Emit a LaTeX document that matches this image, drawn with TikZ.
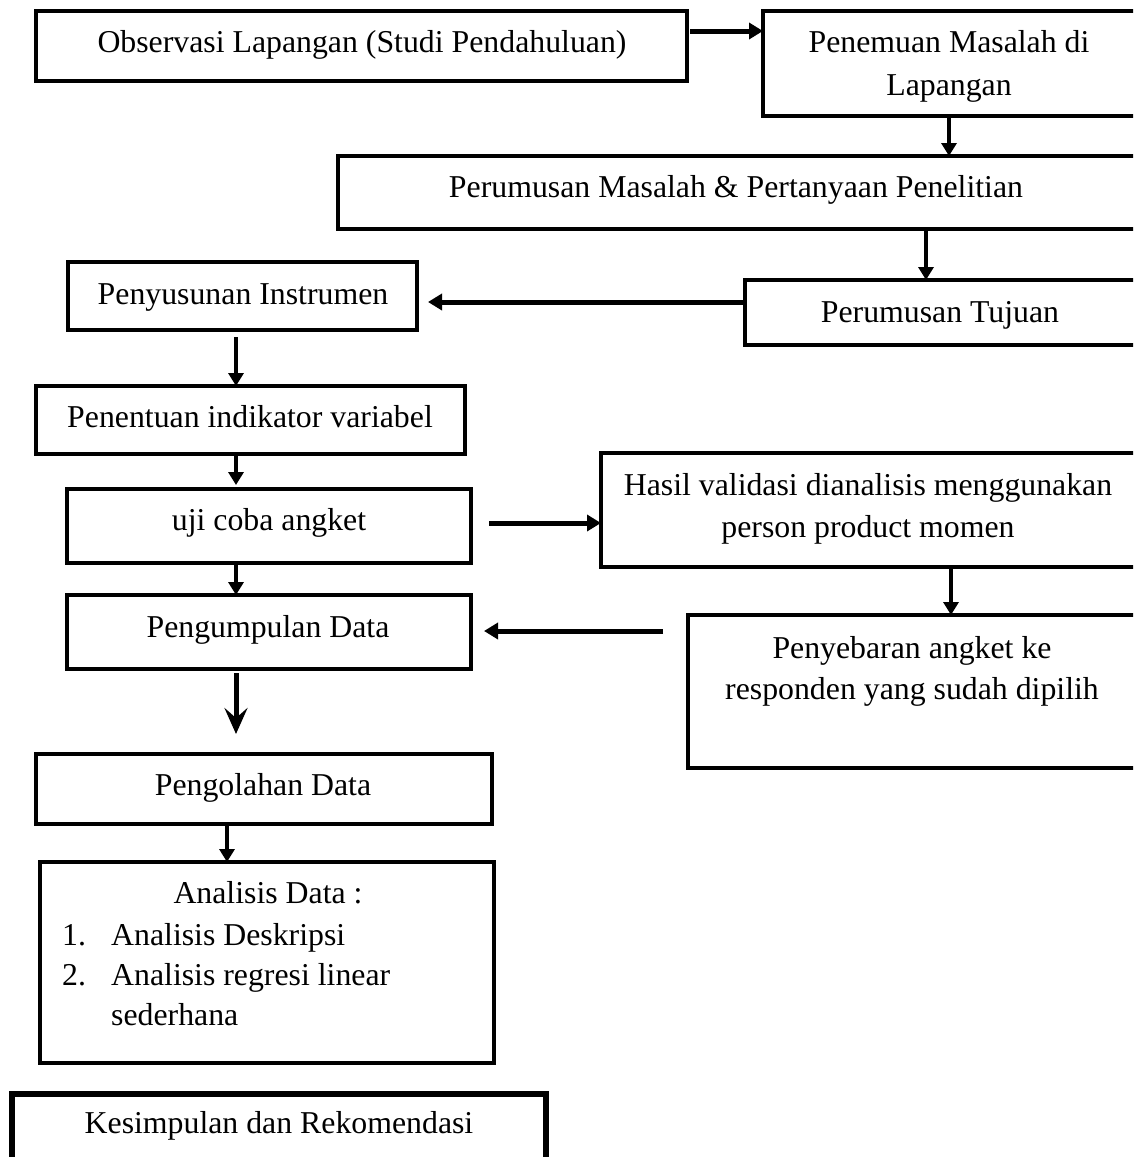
\documentclass[tikz,border=0pt]{standalone}
\usepackage{fontspec}
\setmainfont{Liberation Serif}
\usetikzlibrary{arrows.meta}
\tikzset{
  box/.style={draw, line width=4.8pt, inner sep=0pt, outer sep=0pt, anchor=north west},
  txt/.style={inner sep=0pt, anchor=base, font=\fontsize{31.8}{42}\selectfont},
  txtl/.style={txt, anchor=base west},
  harr/.style={line width=5pt, -{Triangle[length=14pt,width=16pt]}},
  varr/.style={line width=4pt, -{Triangle[length=13pt,width=15pt]}},
  varrv/.style={line width=5pt, -{Stealth[length=26pt,width=23pt,inset=10pt]}},
}
\begin{document}
\begin{tikzpicture}[x=1pt,y=-1pt]
\useasboundingbox (0,0) rectangle (1133,1157);
\clip (0,0) rectangle (1133,1157);
\fill[white] (0,0) rectangle (1133,1157);
% boxes
\node[box, minimum width=651pt, minimum height=70pt] (b1) at (36,11) {};
\node[box, minimum width=400pt, minimum height=105pt] (b2) at (763,11) {};
\node[box, minimum width=820pt, minimum height=73pt] (b3) at (338,156) {};
\node[box, minimum width=420pt, minimum height=65pt] (b4) at (745,280) {};
\node[box, minimum width=349pt, minimum height=68pt] (b5) at (68,262) {};
\node[box, minimum width=429pt, minimum height=68pt] (b6) at (36,386) {};
\node[box, minimum width=404pt, minimum height=74pt] (b7) at (67,489) {};
\node[box, minimum width=560pt, minimum height=114pt] (b8) at (601,453) {};
\node[box, minimum width=404pt, minimum height=74pt] (b9) at (67,595) {};
\node[box, minimum width=470pt, minimum height=153pt] (b10) at (688,615) {};
\node[box, minimum width=456pt, minimum height=70pt] (b11) at (36,754) {};
\node[box, minimum width=454pt, minimum height=201pt] (b12) at (40,862) {};
\node[box, line width=5.5pt, minimum width=534pt, minimum height=90pt] (b13) at (12,1094) {};
% texts
\node[txt] (t1) at (362,52) {Observasi Lapangan (Studi Pendahuluan)};
\node[txt] (t2a) at (949,52) {Penemuan Masalah di};
\node[txt] (t2b) at (949,95) {Lapangan};
\node[txt] (t3) at (736,197) {Perumusan Masalah \& Pertanyaan Penelitian};
\node[txt] (t4) at (940,322) {Perumusan Tujuan};
\node[txt] (t5) at (243,304) {Penyusunan Instrumen};
\node[txt] (t6) at (250,427) {Penentuan indikator variabel};
\node[txt] (t7) at (269,530) {uji coba angket};
\node[txt] (t8a) at (868,495) {Hasil validasi dianalisis menggunakan};
\node[txt] (t8b) at (868,537) {person product momen};
\node[txt] (t9) at (268,637) {Pengumpulan Data};
\node[txt] (t10a) at (912,658) {Penyebaran angket ke};
\node[txt] (t10b) at (912,699) {responden yang sudah dipilih};
\node[txt] (t11) at (263,795) {Pengolahan Data};
\node[txt] (t12) at (268,903) {Analisis Data :};
\node[txtl] (t12n1) at (62,945) {1.};
\node[txtl] (t12a) at (111,945) {Analisis Deskripsi};
\node[txtl] (t12n2) at (62,985) {2.};
\node[txtl] (t12b) at (111,985) {Analisis regresi linear};
\node[txtl] (t12c) at (111,1025) {sederhana};
\node[txt] (t13) at (279,1133) {Kesimpulan dan Rekomendasi};
% arrows
\draw[harr, shorten <=3pt] (b1.east |- 0,31) -- (b2.west |- 0,31);
\draw[varr] (949,0 |- b2.south) -- (949,0 |- b3.north);
\draw[varr] (926,0 |- b3.south) -- (926,0 |- b4.north);
\draw[harr, shorten >=11pt] (b4.west |- 0,302) -- (b5.east |- 0,302);
\draw[varr, shorten <=7pt] (236,0 |- b5.south) -- (236,0 |- b6.north);
\draw[varr, shorten >=4pt] (236,0 |- b6.south) -- (236,0 |- b7.north);
\draw[harr, shorten <=18pt] (b7.east |- 0,523) -- (b8.west |- 0,523);
\draw[varr] (236,0 |- b7.south) -- (236,0 |- b9.north);
\draw[varr] (951,0 |- b8.south) -- (951,0 |- b10.north);
\draw[harr, shorten <=25pt, shorten >=13pt] (b10.west |- 0,631) -- (b9.east |- 0,631);
\draw[varrv, shorten <=4pt, shorten >=20pt] (236,0 |- b9.south) -- (236,0 |- b11.north);
\draw[varr] (227,0 |- b11.south) -- (227,0 |- b12.north);
\end{tikzpicture}
\end{document}
